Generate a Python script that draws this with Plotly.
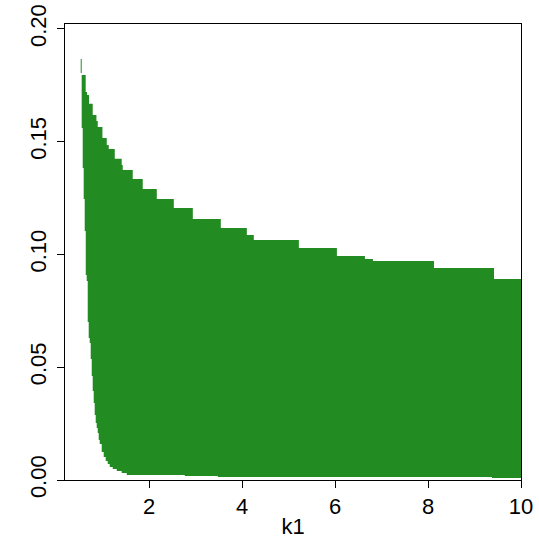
import plotly.graph_objects as go

GREEN = "#228B22"

# Upper boundary (step function): k1 breakpoints and values
upper_x = [0.530, 0.551, 0.637, 0.666, 0.709, 0.788, 0.868, 0.896, 0.997, 1.090,
           1.133, 1.262, 1.412, 1.434, 1.649, 1.864, 2.166, 2.532, 2.941, 3.543,
           4.103, 4.253, 5.222, 6.040, 6.643, 6.815, 8.128, 9.419, 10.0]
upper_y = [0.1867, 0.1796, 0.1721, 0.1707, 0.1668, 0.1619, 0.1592, 0.1565, 0.1517, 0.1486,
           0.1468, 0.1424, 0.1397, 0.1375, 0.1335, 0.1290, 0.1246, 0.1206, 0.1157, 0.1117,
           0.1086, 0.1064, 0.1029, 0.0993, 0.0980, 0.0971, 0.0940, 0.0891, 0.0891]

# Lower boundary
lower_x = [0.530, 0.551, 0.573, 0.594, 0.616, 0.638, 0.659, 0.681, 0.702, 0.724,
           0.745, 0.767, 0.788, 0.810, 0.831, 0.853, 0.874, 0.896, 0.917, 0.939,
           0.982, 1.025, 1.068, 1.111, 1.154, 1.219, 1.305, 1.412, 1.520, 2.768,
           3.479, 9.376, 10.0]
lower_y = [0.1805, 0.1561, 0.1384, 0.1246, 0.1104, 0.0909, 0.0882, 0.0701, 0.0630, 0.0608,
           0.0537, 0.0461, 0.0395, 0.0341, 0.0288, 0.0253, 0.0231, 0.0208, 0.0177, 0.0160,
           0.0124, 0.0102, 0.0084, 0.0071, 0.0058, 0.0049, 0.0040, 0.0031, 0.0022, 0.0018,
           0.0013, 0.0009, 0.0009]

x_ticks = [2, 4, 6, 8, 10]
y_ticks = [0.00, 0.05, 0.10, 0.15, 0.20]
y_ticktext = ["0.00", "0.05", "0.10", "0.15", "0.20"]

FONT = dict(family="Liberation Sans, Arial, sans-serif", size=22, color="black")

fig = go.Figure()
fig.add_trace(go.Scatter(x=lower_x, y=lower_y, mode="lines",
                         line=dict(width=0, shape="hv", color=GREEN),
                         hoverinfo="skip", showlegend=False))
fig.add_trace(go.Scatter(x=upper_x, y=upper_y, mode="lines",
                         line=dict(width=0, shape="hv", color=GREEN),
                         fill="tonexty", fillcolor=GREEN,
                         hoverinfo="skip", showlegend=False))

axis_common = dict(showline=True, linecolor="black", linewidth=1, mirror=True,
                   ticks="outside", ticklen=7, tickwidth=1, tickcolor="black",
                   showgrid=False, zeroline=False, tickfont=FONT)

fig.update_layout(
    width=539, height=543,
    margin=dict(l=65, r=18, t=24, b=63, autoexpand=False),
    paper_bgcolor="white", plot_bgcolor="white",
    font=FONT,
    xaxis=dict(range=[0.192, 10], tickvals=x_ticks, automargin=False,
               title=dict(text="k1", font=FONT, standoff=0), **axis_common),
    yaxis=dict(range=[0, 0.2022], tickvals=y_ticks, ticktext=y_ticktext,
               tickangle=-90, automargin=False, ticklabelstandoff=2, **axis_common),
)

fig.write_html("out.html", config={"displayModeBar": False},
               post_script="document.body.style.margin='0';document.body.style.padding='0';")
